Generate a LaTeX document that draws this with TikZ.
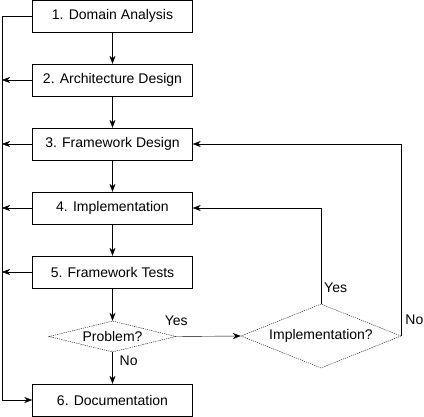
\documentclass[tikz,border=0pt]{standalone}
\usepackage{fontspec}
\setmainfont{Liberation Sans}
\usetikzlibrary{shapes.geometric,arrows.meta}
\begin{document}
\begin{tikzpicture}[x=1pt,y=1pt,>={Stealth[length=8pt,width=6pt]},font=\fontsize{14}{16}\selectfont,
	step box/.style={draw,minimum width=160pt,minimum height=32pt,inner sep=0pt},
	check/.style={draw,diamond,dash pattern=on 1.2pt off 1pt,inner sep=0pt},
	lbl/.style={inner sep=0pt}]
	\useasboundingbox (0,0) rectangle (424,-417);
	\node[step box] (s1) at (112.5,-16) {1. Domain Analysis};
	\node[step box] (s2) at (112.5,-80) {2. Architecture Design};
	\node[step box] (s3) at (112.5,-144) {3. Framework Design};
	\node[step box] (s4) at (112.5,-208) {4. Implementation};
	\node[step box] (s5) at (112.5,-272) {5. Framework Tests};
	\node[check,aspect=4.1,minimum width=127pt,minimum height=31pt] (prob) at (112.5,-336.5) {Problem?};
	\node[check,aspect=2.5,minimum width=160pt,minimum height=64pt] (impl) at (321,-336) {Implementation?};
	\node[step box] (s6) at (112.5,-400) {6. Documentation};
	\coordinate (top) at (2,-16);
	\coordinate (bot) at (2,-400);
	% main flow
	\draw[->] (s1) -- (s2);
	\draw[->] (s2) -- (s3);
	\draw[->] (s3) -- (s4);
	\draw[->] (s4) -- (s5);
	\draw[->] (s5) -- (prob);
	\draw[->] (prob) -- node[lbl,pos=0.27,right=7pt]{No} (s6);
	\draw[->] (prob.east) -- node[lbl,pos=0,above=11pt]{Yes} (impl.west);
	% left bypass
	\draw[->] (s1.west) -- (top) -- (bot) -- (s6.west);
	\draw[->] (s2.west) -- (s2.west -| top);
	\draw[->] (s3.west) -- (s3.west -| top);
	\draw[->] (s4.west) -- (s4.west -| top);
	\draw[->] (s5.west) -- (s5.west -| top);
	% loops back
	\draw[->] (impl.north) |- node[lbl,pos=0.083,right=3pt]{Yes} (s4.east);
	\draw[->] (impl.east) |- node[lbl,pos=0.042,right=4pt]{No} (s3.east);
\end{tikzpicture}
\end{document}
